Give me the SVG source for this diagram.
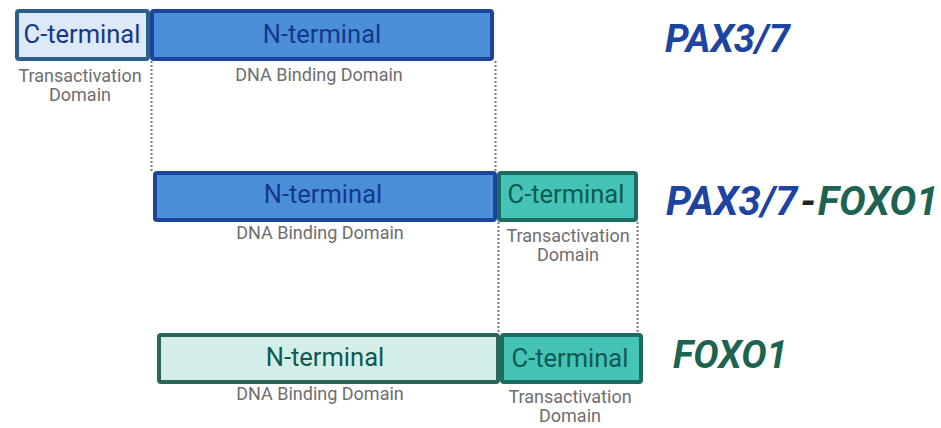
<svg xmlns="http://www.w3.org/2000/svg" width="941" height="428" viewBox="0 0 941 428">
  <style>
    .box { stroke-width: 4; }
    .nblue { fill: #4a8fd8; stroke: #1b459c; }
    .cpale { fill: #dde9f7; stroke: #2c5f8c; }
    .cteal { fill: #45c3b6; stroke: #1c6b60; }
    .npale { fill: #d3eee8; stroke: #2b6757; }
    .t { font-family: Roboto, "Liberation Sans", sans-serif; font-size: 25.5px; text-anchor: middle; }
    .tb { fill: #16388a; }
    .tg { fill: #0f5a50; }
    .lab { font-family: Roboto, "Liberation Sans", sans-serif; font-size: 18px; fill: #6e6e6e; text-anchor: middle; }
    .dot { stroke: #7a7a7a; stroke-width: 2; stroke-dasharray: 2 2; fill: none; }
    .title { font-family: Roboto, "Liberation Sans", sans-serif; font-weight: bold; font-style: italic; }
    .pax { fill: #1c44a0; }
    .foxo { fill: #1e6352; }
  </style>
  <rect width="941" height="428" fill="#ffffff"/>

  <g id="connectors">
    <line class="dot" x1="151.5" y1="61" x2="151.5" y2="171"/>
    <line class="dot" x1="495.5" y1="61" x2="495.5" y2="171"/>
    <line class="dot" x1="498.5" y1="222" x2="498.5" y2="333"/>
    <line class="dot" x1="637.5" y1="222" x2="637.5" y2="333"/>
  </g>

  <g id="pax-c-terminal">
    <rect class="box cpale" x="17" y="11" width="131" height="48" rx="2"/>
    <text class="t tb" x="82" y="43">C-terminal</text>
    <text class="lab" x="80" y="82">Transactivation</text>
    <text class="lab" x="80" y="101">Domain</text>
  </g>
  <g id="pax-n-terminal">
    <rect class="box nblue" x="152" y="11" width="340" height="48" rx="2"/>
    <text class="t tb" x="322" y="43">N-terminal</text>
    <text class="lab" x="319" y="81">DNA Binding Domain</text>
  </g>

  <g id="fusion-n-terminal">
    <rect class="box nblue" x="155" y="173" width="340" height="47" rx="2"/>
    <text class="t tb" x="323" y="203">N-terminal</text>
    <text class="lab" x="320" y="239">DNA Binding Domain</text>
  </g>
  <g id="fusion-c-terminal">
    <rect class="box cteal" x="499" y="173" width="137" height="47" rx="2"/>
    <text class="t tg" x="566" y="203">C-terminal</text>
    <text class="lab" x="568" y="242">Transactivation</text>
    <text class="lab" x="568" y="261">Domain</text>
  </g>

  <g id="foxo-n-terminal">
    <rect class="box npale" x="159" y="335" width="339" height="47" rx="2"/>
    <text class="t tg" x="325" y="366">N-terminal</text>
    <text class="lab" x="320" y="400">DNA Binding Domain</text>
  </g>
  <g id="foxo-c-terminal">
    <rect class="box cteal" x="502" y="335" width="139" height="47" rx="2"/>
    <text class="t tg" x="570" y="367">C-terminal</text>
    <text class="lab" x="570" y="403">Transactivation</text>
    <text class="lab" x="570" y="422">Domain</text>
  </g>

  <g id="title-pax">
    <text class="title pax" x="665" y="52" font-size="38">PAX3/7</text>
  </g>
  <g id="title-fusion">
    <text class="title" x="666" y="215" font-size="40"><tspan class="pax">PAX3/7</tspan><tspan fill="#222222" dx="3">-</tspan><tspan class="foxo" dx="2">FOXO1</tspan></text>
  </g>
  <g id="title-foxo">
    <text class="title foxo" x="673" y="368" font-size="38">FOXO1</text>
  </g>
</svg>
